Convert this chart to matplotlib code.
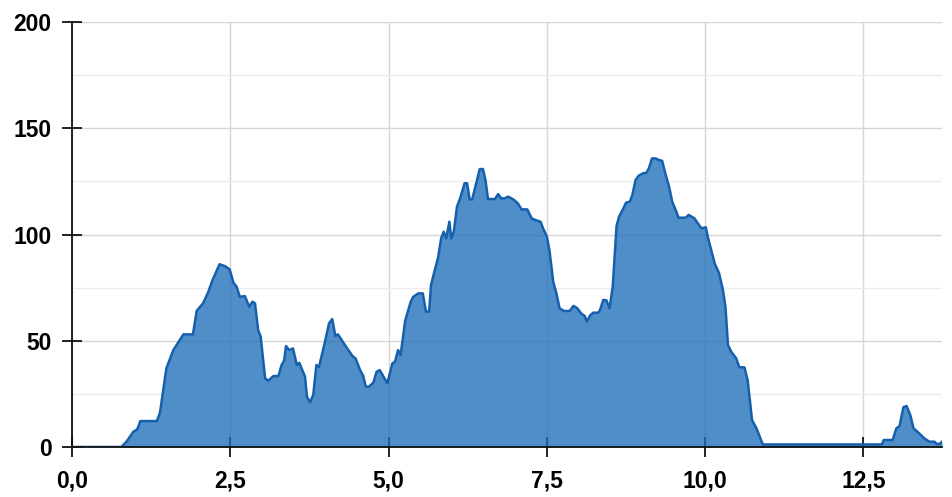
import matplotlib
matplotlib.use("Agg")
import matplotlib.pyplot as plt
from matplotlib.ticker import MultipleLocator, FuncFormatter

# Data
distance = [0.0, 0.78, 0.86, 0.97, 1.03, 1.08, 1.34, 1.39, 1.49, 1.60, 1.76, 1.91, 1.97, 2.07, 2.15,
            2.22, 2.33, 2.41, 2.49, 2.55, 2.60, 2.65, 2.73, 2.80, 2.85, 2.89, 2.94, 2.98, 3.05, 3.10,
            3.18, 3.26, 3.31, 3.35, 3.38, 3.43, 3.49, 3.55, 3.59, 3.68, 3.71, 3.76, 3.81, 3.86, 3.90,
            3.99, 4.06, 4.11, 4.16, 4.20, 4.31, 4.43, 4.48, 4.55, 4.60, 4.64, 4.69, 4.76, 4.81, 4.86,
            4.98, 5.06, 5.10, 5.15, 5.19, 5.26, 5.28, 5.35, 5.39, 5.47, 5.54, 5.59, 5.64, 5.67, 5.73,
            5.78, 5.83, 5.87, 5.91, 5.96, 5.99, 6.03, 6.08, 6.13, 6.20, 6.24, 6.28, 6.32, 6.44, 6.49,
            6.53, 6.57, 6.68, 6.73, 6.78, 6.83, 6.89, 6.97, 7.04, 7.10, 7.19, 7.26, 7.32, 7.40, 7.44,
            7.50, 7.54, 7.60, 7.65, 7.70, 7.77, 7.86, 7.92, 7.98, 8.04, 8.10, 8.13, 8.18, 8.23, 8.31,
            8.34, 8.39, 8.44, 8.49, 8.54, 8.60, 8.64, 8.70, 8.75, 8.81, 8.85, 8.90, 8.95, 9.02, 9.07,
            9.11, 9.16, 9.22, 9.27, 9.32, 9.37, 9.43, 9.48, 9.53, 9.58, 9.69, 9.74, 9.83, 9.94, 10.01,
            10.04, 10.15, 10.22, 10.28, 10.32, 10.36, 10.41, 10.49, 10.54, 10.62, 10.67, 10.74, 10.81,
            10.91, 12.79, 12.82, 12.96, 13.02, 13.07, 13.13, 13.18, 13.24, 13.29, 13.38, 13.46, 13.54,
            13.62, 13.66, 13.70, 13.74]
elevation = [0.0, 0.0, 2.5, 7.2, 8.3, 12.2, 12.2, 16.2, 37.0, 45.6, 53.0, 53.0, 64.1, 67.6, 72.8,
             78.6, 86.0, 85.2, 83.6, 77.3, 75.4, 70.7, 71.0, 66.0, 68.4, 67.6, 55.0, 51.9, 32.3, 31.2,
             33.4, 33.4, 38.6, 40.6, 47.5, 45.6, 46.4, 38.6, 39.6, 33.1, 23.7, 21.0, 24.5, 38.6, 37.6,
             48.8, 58.2, 60.2, 52.2, 53.0, 48.0, 42.8, 41.6, 36.2, 33.4, 28.4, 28.4, 30.3, 35.4, 36.2,
             30.0, 39.4, 40.0, 45.6, 43.3, 59.0, 61.3, 68.4, 70.7, 72.3, 72.3, 63.7, 63.7, 76.2, 83.3,
             88.8, 98.2, 101.3, 98.2, 106.0, 98.2, 101.3, 113.1, 117.0, 124.1, 124.1, 116.5, 116.5, 130.8, 130.8,
             125.6, 116.7, 116.7, 119.0, 117.0, 117.0, 117.8, 116.5, 114.7, 111.8, 111.8, 107.6, 106.8, 106.0, 102.9,
             99.0, 92.7, 77.8, 72.3, 65.3, 64.0, 64.0, 66.4, 65.3, 62.9, 61.6, 59.0, 61.8, 63.2, 63.2,
             64.5, 69.2, 69.0, 65.3, 75.4, 104.0, 108.4, 111.8, 115.0, 115.5, 118.6, 125.6, 127.7, 128.8, 129.0,
             131.1, 135.8, 135.8, 135.0, 134.7, 128.8, 122.5, 115.4, 111.8, 107.9, 107.9, 109.2, 107.6, 102.9, 103.4,
             99.0, 86.4, 81.7, 73.9, 66.0, 48.0, 44.9, 41.7, 37.5, 37.5, 31.5, 12.7, 8.8,
             1.2, 1.2, 3.3, 3.3, 8.8, 9.9, 18.7, 19.3, 15.0, 8.8, 6.4, 4.1, 2.5,
             2.5, 1.4, 1.4, 2.5]

x_max = 13.74
y_max = 200

fig = plt.figure(figsize=(9.52, 4.97), dpi=100)
ax = fig.add_axes([72 / 952, 1 - 447 / 497, (942 - 72) / 952, (447 - 22) / 497])

ax.fill_between(distance, elevation, 0, color="#1f6fba", alpha=0.78, linewidth=0, zorder=2)
ax.plot(distance, elevation, color="#1560ad", linewidth=1.8, zorder=3, solid_joinstyle="round")

ax.set_xlim(0, x_max)
ax.set_ylim(0, y_max)

ax.xaxis.set_major_locator(MultipleLocator(2.5))
ax.yaxis.set_major_locator(MultipleLocator(50))
ax.yaxis.set_minor_locator(MultipleLocator(25))

ax.xaxis.set_major_formatter(FuncFormatter(lambda v, p: f"{v:.1f}".replace(".", ",")))
ax.yaxis.set_major_formatter(FuncFormatter(lambda v, p: f"{int(v)}"))

ax.grid(which="major", axis="both", color="#d6d6d6", linewidth=1.0, zorder=0)
ax.grid(which="minor", axis="y", color="#ececec", linewidth=1.0, zorder=0)
ax.set_axisbelow(True)

for side in ["top", "right"]:
    ax.spines[side].set_visible(False)
for side in ["left", "bottom"]:
    ax.spines[side].set_color("#111111")
    ax.spines[side].set_linewidth(1.3)
    ax.spines[side].set_zorder(4)

ax.tick_params(axis="both", which="major", direction="inout", length=15, width=1.3,
               color="#111111", labelsize=16.5)
ax.tick_params(axis="y", which="major", pad=7)
ax.tick_params(axis="x", which="major", pad=8.5)
ax.tick_params(axis="y", which="minor", length=0)
for lab in ax.get_xticklabels() + ax.get_yticklabels():
    lab.set_fontweight("bold")
    lab.set_family("Liberation Sans")

fig.savefig("out.png", dpi=100)
